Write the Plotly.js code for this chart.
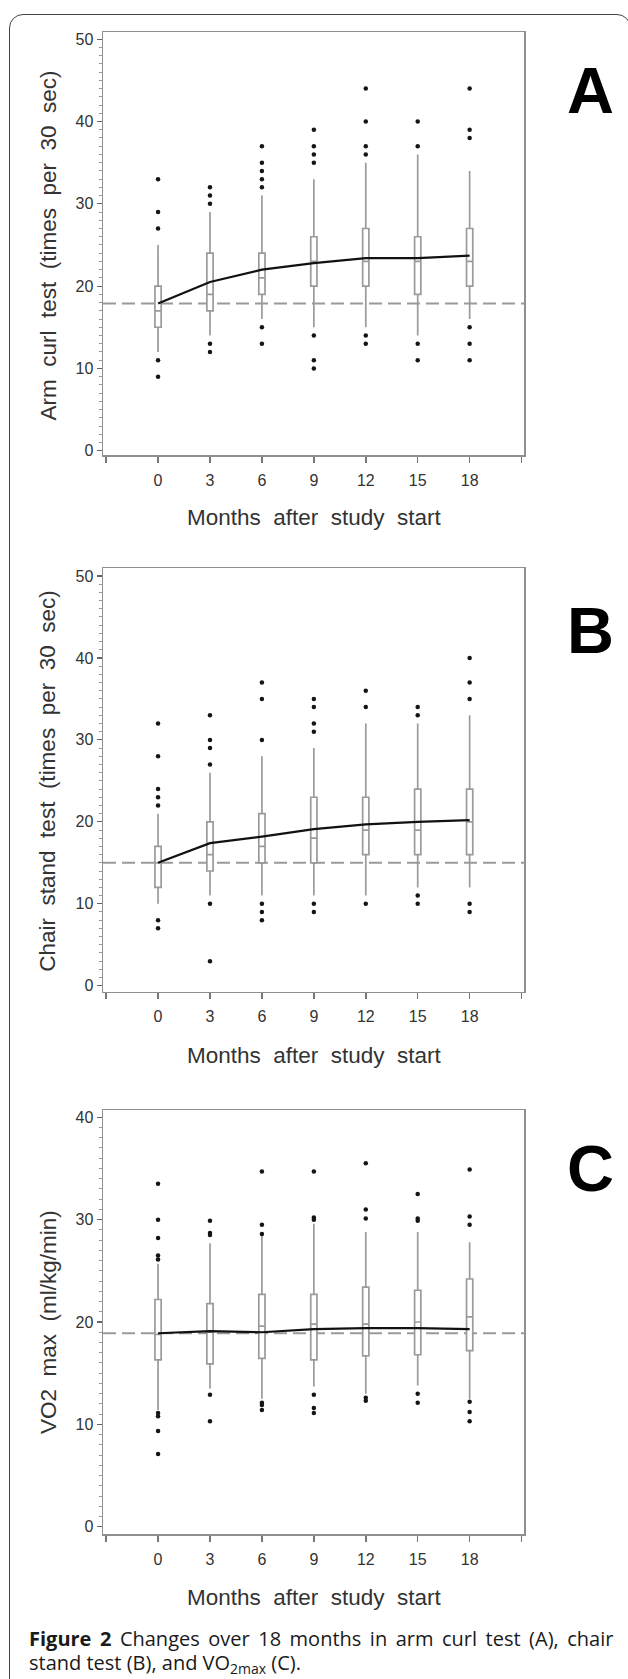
<!DOCTYPE html>
<html>
<head>
<meta charset="utf-8">
<script src="https://cdn.plot.ly/plotly-3.0.1.min.js"></script>
<style>
  html, body { margin: 0; padding: 0; background: #fff; }
  #wrap { position: relative; width: 628px; height: 1679px; overflow: hidden; }
  #chart { position: absolute; left: 0; top: 0; width: 628px; height: 1679px; }
  #frame { position: absolute; left: 9px; top: 14px; width: 620px; height: 1700px;
           border: 1px solid #444; border-radius: 14px; pointer-events: none; }
</style>
</head>
<body>
<div id="wrap">
  <div id="chart"></div>
  <div id="frame"></div>
</div>
<script>
// ---------------- data ----------------
var months = [0, 3, 6, 9, 12, 15, 18];
var xTickVals = [-3, 0, 3, 6, 9, 12, 15, 18, 21];
var xTickText = ['', '0', '3', '6', '9', '12', '15', '18', ''];

// Panel A: arm curl test
var armQ1     = [15, 17, 19, 20, 20, 19, 20];
var armMedian = [17, 19, 21, 23, 23, 23, 23];
var armQ3     = [20, 24, 24, 26, 27, 26, 27];
var armLow    = [12, 14, 16, 15, 15, 14, 16];
var armHigh   = [25, 29, 31, 33, 35, 36, 34];
var armMean   = [17.9, 20.5, 22.0, 22.8, 23.4, 23.4, 23.7];
var armBaseline = 17.9;
var armOutX = [0,0,0,0,0, 3,3,3,3,3, 6,6,6,6,6,6,6, 9,9,9,9,9,9,9, 12,12,12,12,12,12, 15,15,15,15, 18,18,18,18,18,18];
var armOutY = [33,29,27,11,9, 32,31,30,13,12, 37,35,34,33,32,15,13, 39,37,36,35,14,11,10, 44,40,37,36,14,13, 40,37,13,11, 44,39,38,15,13,11];

// Panel B: chair stand test
var chairQ1     = [12, 14, 15, 15, 16, 16, 16];
var chairMedian = [15, 16, 17, 18, 19, 19, 20];
var chairQ3     = [17, 20, 21, 23, 23, 24, 24];
var chairLow    = [10, 11, 11, 11, 11, 12, 12];
var chairHigh   = [21, 26, 28, 29, 32, 32, 33];
var chairMean   = [15.0, 17.4, 18.2, 19.1, 19.7, 20.0, 20.2];
var chairBaseline = 15.0;
var chairOutX = [0,0,0,0,0,0,0, 3,3,3,3,3,3, 6,6,6,6,6,6, 9,9,9,9,9,9, 12,12,12, 15,15,15,15, 18,18,18,18,18];
var chairOutY = [32,28,24,23,22,8,7, 33,30,29,27,10,3, 37,35,30,10,9,8, 35,34,32,31,10,9, 36,34,10, 34,33,11,10, 40,37,35,10,9];

// Panel C: VO2 max
var vo2Q1     = [16.3, 15.9, 16.45, 16.3, 16.7, 16.8, 17.2];
var vo2Median = [18.8, 19.0, 19.6, 19.8, 19.8, 20.0, 20.5];
var vo2Q3     = [22.2, 21.8, 22.7, 22.7, 23.4, 23.1, 24.2];
var vo2Low    = [11.4, 13.5, 12.5, 13.7, 13.0, 13.8, 12.5];
var vo2High   = [25.7, 27.7, 28.4, 29.6, 28.8, 28.8, 27.8];
var vo2Mean   = [18.9, 19.1, 19.0, 19.3, 19.4, 19.4, 19.3];
var vo2Baseline = 18.9;
var vo2OutX = [0,0,0,0,0,0,0,0,0, 3,3,3,3,3, 6,6,6,6,6,6, 9,9,9,9,9,9, 12,12,12,12,12, 15,15,15,15,15, 18,18,18,18,18,18];
var vo2OutY = [33.5,30.0,28.2,26.5,26.1,11.1,10.8,9.35,7.1, 29.9,28.7,28.5,12.9,10.3, 34.7,29.5,28.6,12.1,11.9,11.4, 34.7,30.2,30.0,12.9,11.6,11.1, 35.5,31.0,30.1,12.6,12.3, 32.5,30.1,29.9,13.0,12.1, 34.9,30.3,29.5,12.2,11.2,10.3];

var yTitleA = 'Arm\u00a0 curl\u00a0 test\u00a0 (times\u00a0 per\u00a0 30\u00a0 sec)';
var yTitleB = 'Chair\u00a0 stand\u00a0 test\u00a0 (times\u00a0 per\u00a0 30\u00a0 sec)';
var yTitleC = 'VO2\u00a0 max\u00a0 (ml/kg/min)';
var xTitle  = 'Months\u00a0 after\u00a0 study\u00a0 start';
var letters = ['A', 'B', 'C'];
var S = '\u2009 ';
var captionLine1 = '<b>Figure' + S + '2</b>' + S + 'Changes' + S + 'over' + S + '18' + S + 'months' + S + 'in' + S + 'arm' + S + 'curl' + S + 'test' + S + '(A),' + S + 'chair';
var captionLine2 = 'stand test (B), and VO<sub>2max</sub> (C).';

// ---------------- layout helpers ----------------
var W = 628, H = 1679;
function px(x) { return x / W; }
function py(y) { return 1 - y / H; }

var FONT = 'Liberation Sans, Arial, sans-serif';
var CAPFONT = 'Open Sans, Noto Sans, sans-serif';
var plotLeft = 103, plotRight = 524;
var panels = [
  {q1: armQ1, med: armMedian, q3: armQ3, lo: armLow, hi: armHigh, mean: armMean, base: armBaseline,
   ox: armOutX, oy: armOutY, top: 32.3, bottom: 455, range: [-0.52, 50.84], dtick: 10,
   ytitle: yTitleA, ytitleY: 245.5, xtitleY: 518, letterY: 91},
  {q1: chairQ1, med: chairMedian, q3: chairQ3, lo: chairLow, hi: chairHigh, mean: chairMean, base: chairBaseline,
   ox: chairOutX, oy: chairOutY, top: 568.3, bottom: 991.7, range: [-0.73, 50.94], dtick: 10,
   ytitle: yTitleB, ytitleY: 781.7, xtitleY: 1055, letterY: 630.5},
  {q1: vo2Q1, med: vo2Median, q3: vo2Q3, lo: vo2Low, hi: vo2High, mean: vo2Mean, base: vo2Baseline,
   ox: vo2OutX, oy: vo2OutY, top: 1110, bottom: 1534, range: [-0.71, 40.71], dtick: 10,
   ytitle: yTitleC, ytitleY: 1322, xtitleY: 1597, letterY: 1168.5}
];

var traces = [], shapes = [], annotations = [];
var layout = {
  width: W, height: H,
  margin: {l: 0, r: 0, t: 0, b: 0},
  paper_bgcolor: 'rgba(0,0,0,0)', plot_bgcolor: 'rgba(0,0,0,0)',
  showlegend: false,
  font: {family: FONT, color: '#333'}
};

panels.forEach(function (p, i) {
  var sfx = i === 0 ? '' : String(i + 1);
  var xa = 'x' + sfx, ya = 'y' + sfx;

  traces.push({
    type: 'box', x: months, q1: p.q1, median: p.med, q3: p.q3,
    lowerfence: p.lo, upperfence: p.hi, boxpoints: false,
    width: 0.36, whiskerwidth: 0,
    line: {color: '#9a9a9a', width: 1.7}, fillcolor: 'rgba(255,255,255,1)',
    xaxis: xa, yaxis: ya, hoverinfo: 'skip'
  });
  traces.push({
    type: 'scatter', mode: 'markers', x: p.ox, y: p.oy,
    marker: {color: '#151515', size: 4.5},
    xaxis: xa, yaxis: ya, hoverinfo: 'skip'
  });
  traces.push({
    type: 'scatter', mode: 'lines', x: months, y: p.mean,
    line: {color: '#111', width: 2.2},
    xaxis: xa, yaxis: ya, hoverinfo: 'skip'
  });

  layout['xaxis' + sfx] = {
    domain: [px(plotLeft), px(plotRight)], anchor: ya,
    range: [-3.18, 21.14],
    tickmode: 'array', tickvals: xTickVals, ticktext: xTickText,
    ticks: 'outside', ticklen: 6, tickwidth: 1.5, tickcolor: '#777',
    ticklabelstandoff: 4,
    showline: true, linecolor: '#8f8f8f', linewidth: 1.5, mirror: true,
    showgrid: false, zeroline: false,
    tickfont: {family: FONT, size: 16, color: '#333'}
  };
  layout['yaxis' + sfx] = {
    domain: [py(p.bottom), py(p.top)], anchor: xa,
    range: p.range, tick0: 0, dtick: p.dtick,
    ticks: 'outside', ticklen: 5, tickwidth: 1.2, tickcolor: '#666',
    minor: {dtick: 1, ticks: 'outside', ticklen: 2.5, tickwidth: 1, tickcolor: '#999', showgrid: false},
    showline: true, linecolor: '#8f8f8f', linewidth: 1.5, mirror: true,
    showgrid: false, zeroline: false,
    tickfont: {family: FONT, size: 16, color: '#333'}
  };

  shapes.push({
    type: 'line', xref: 'paper', yref: ya,
    x0: px(plotLeft), x1: px(plotRight), y0: p.base, y1: p.base,
    line: {color: '#9a9a9a', width: 2, dash: '13px,6px'}, layer: 'below'
  });

  annotations.push({
    xref: 'paper', yref: 'paper', x: px(48), y: py(p.ytitleY),
    text: p.ytitle, textangle: -90, showarrow: false,
    xanchor: 'center', yanchor: 'middle',
    font: {family: FONT, size: 22.5, color: '#333'}
  });
  annotations.push({
    xref: 'paper', yref: 'paper', x: px(314), y: py(p.xtitleY),
    text: xTitle, showarrow: false, xanchor: 'center', yanchor: 'middle',
    font: {family: FONT, size: 22.5, color: '#333'}
  });
  annotations.push({
    xref: 'paper', yref: 'paper', x: px(590), y: py(p.letterY),
    text: '<b>' + letters[i] + '</b>', showarrow: false, xanchor: 'center', yanchor: 'middle',
    font: {family: FONT, size: 65, color: '#000'}
  });
});

annotations.push({
  xref: 'paper', yref: 'paper', x: px(27), y: py(1638),
  text: captionLine1, showarrow: false, xanchor: 'left', yanchor: 'middle',
  font: {family: CAPFONT, size: 20, color: '#1a1a1a'}
});
annotations.push({
  xref: 'paper', yref: 'paper', x: px(27), y: py(1663),
  text: captionLine2, showarrow: false, xanchor: 'left', yanchor: 'middle',
  font: {family: CAPFONT, size: 20, color: '#1a1a1a'}
});

layout.shapes = shapes;
layout.annotations = annotations;

Plotly.newPlot('chart', traces, layout, {staticPlot: true, displayModeBar: false});
</script>
</body>
</html>
